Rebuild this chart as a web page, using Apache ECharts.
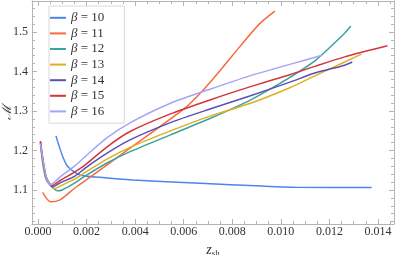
<!DOCTYPE html>
<html><head><meta charset="utf-8">
<script src="https://cdn.jsdelivr.net/npm/echarts@6/dist/echarts.min.js"></script>
<style>html,body{margin:0;padding:0;background:#fff}#c{width:395px;height:255px}</style>
</head><body><div id="c"></div>
<script>
const betas = [10, 11, 12, 13, 14, 15, 16];
const colors = ['#4A86EC', '#F76B3F', '#3AA3A0', '#E0AE22', '#5A4FB2', '#D2353C', '#A3A5F8'];

const b10 = [[0.00074,1.237],[0.00118,1.163],[0.00173,1.138],[0.00255,1.132],[0.00391,1.125],[0.00667,1.117],[0.00922,1.110],[0.01058,1.107],[0.01374,1.106]];
const b11 = [[0.00019,1.094],[0.00052,1.070],[0.00091,1.075],[0.00152,1.105],[0.00193,1.123],[0.00379,1.206],[0.00598,1.304],[0.00674,1.349],[0.00763,1.412],[0.00831,1.463],[0.00911,1.520],[0.00975,1.553]];
const b12 = [[0.00010,1.220],[0.00033,1.128],[0.00082,1.098],[0.00099,1.100],[0.00152,1.118],[0.00193,1.135],[0.00286,1.169],[0.00379,1.197],[0.00543,1.239],[0.00708,1.281],[0.00872,1.327],[0.00996,1.370],[0.01037,1.385],[0.0114,1.427],[0.01263,1.497],[0.01288,1.515]];
const b13 = [[0.00010,1.220],[0.00033,1.130],[0.00070,1.104],[0.00091,1.110],[0.00152,1.128],[0.00193,1.144],[0.00286,1.179],[0.00379,1.208],[0.00543,1.249],[0.00708,1.287],[0.00872,1.319],[0.01037,1.359],[0.0114,1.389],[0.01263,1.424],[0.01332,1.444]];
const b14 = [[0.00010,1.222],[0.00033,1.133],[0.00062,1.108],[0.00091,1.118],[0.00152,1.135],[0.00193,1.155],[0.00286,1.194],[0.00379,1.227],[0.00543,1.270],[0.00708,1.305],[0.00872,1.338],[0.01037,1.373],[0.0114,1.396],[0.01263,1.416],[0.01294,1.424]];
const b15 = [[0.00010,1.224],[0.00033,1.135],[0.00056,1.111],[0.00091,1.124],[0.00152,1.146],[0.00193,1.163],[0.00286,1.210],[0.00379,1.248],[0.00543,1.292],[0.00708,1.328],[0.00872,1.361],[0.01037,1.392],[0.0114,1.413],[0.01263,1.437],[0.01439,1.465]];
const b16 = [[0.00010,1.218],[0.00033,1.135],[0.00052,1.113],[0.00091,1.133],[0.00152,1.161],[0.00193,1.184],[0.00286,1.233],[0.00379,1.270],[0.00543,1.319],[0.00708,1.355],[0.00872,1.389],[0.01037,1.418],[0.0117,1.441]];
const seriesData = [b10, b11, b12, b13, b14, b15, b16];

const xTickLabels = [0, 0.002, 0.004, 0.006, 0.008, 0.010, 0.012, 0.014];
const yTickLabels = [1.1, 1.2, 1.3, 1.4, 1.5];

const XMIN = -0.000247, XMAX = 0.01466, YMIN = 1.0139, YMAX = 1.5785;
const xMinor = [], yMinor = [];
for (let i = 0; i <= 29; i++) xMinor.push(+(i * 0.0005).toFixed(5));
for (let i = 1; i <= 28; i++) yMinor.push(+(1 + i * 0.02).toFixed(3));

const frameColor = '#b4b4b4';
const labelFont = {fontFamily: 'Liberation Serif', fontSize: 12, color: '#333'};

function ax(kind, pos, vals, len, withLabels, withLine, extra) {
  const o = {
    type: 'value', position: pos,
    min: kind === 'x' ? XMIN : YMIN, max: kind === 'x' ? XMAX : YMAX,
    axisLine: {show: withLine, onZero: false, lineStyle: {color: frameColor, width: 1}},
    axisTick: {show: true, inside: true, length: len, customValues: vals, lineStyle: {color: frameColor, width: 1}},
    axisLabel: withLabels ? Object.assign({show: true, customValues: vals}, labelFont,
      kind === 'x' ? {margin: 2, formatter: v => v.toFixed(3)} : {margin: 4, formatter: v => v.toFixed(1)})
      : {show: false},
    splitLine: {show: false}
  };
  return Object.assign(o, extra || {});
}

const chart = echarts.init(document.getElementById('c'), null, {renderer: 'canvas'});
chart.setOption({
  animation: false,
  backgroundColor: '#fff',
  grid: {left: 32, right: 1, top: 1, bottom: 31, containLabel: false, outerBoundsMode: 'none'},
  xAxis: [
    ax('x', 'bottom', xTickLabels, 5, true, true, {
      name: '{z|z}{s|sh}', nameLocation: 'middle', nameGap: 16,
      nameTextStyle: {rich: {
        z: {fontFamily: 'Liberation Serif', fontStyle: 'italic', fontSize: 14, color: '#333'},
        s: {fontFamily: 'Liberation Serif', fontSize: 9, color: '#333', padding: [8, 0, 0, 0]}
      }}
    }),
    ax('x', 'bottom', xMinor, 3, false, false),
    ax('x', 'top', xTickLabels, 5, false, true),
    ax('x', 'top', xMinor, 3, false, false)
  ],
  yAxis: [
    ax('y', 'left', yTickLabels, 5, true, true, {
      name: 'ℳ', nameLocation: 'middle', nameGap: 18, nameRotate: 90, nameMoveOverlap: false,
      nameTextStyle: {fontFamily: 'DejaVu Serif', fontStyle: 'italic', fontSize: 13, color: '#333'}
    }),
    ax('y', 'left', yMinor, 3, false, false),
    ax('y', 'right', yTickLabels, 5, false, true),
    ax('y', 'right', yMinor, 3, false, false)
  ],
  legend: {
    orient: 'vertical', left: 49, top: 6,
    padding: [4, 20, 4, 1],
    borderColor: '#d8d8d8', borderWidth: 1, backgroundColor: '#fff',
    icon: 'rect',
    itemWidth: 16, itemHeight: 2, itemGap: 0,
    formatter: name => '{i|β} ' + name.slice(2),
    textStyle: {fontFamily: 'Liberation Serif', fontSize: 13, color: '#333', lineHeight: 15.6,
      rich: {i: {fontFamily: 'Liberation Serif', fontStyle: 'italic', fontSize: 13, color: '#333', lineHeight: 15.6}}}
  },
  series: betas.map((b, i) => ({
    name: 'β = ' + b,
    type: 'line',
    xAxisIndex: 0, yAxisIndex: 0,
    data: seriesData[i],
    symbol: 'none',
    smooth: 0.25,
    color: colors[i],
    lineStyle: {width: 1.5, color: colors[i]}
  }))
});
</script></body></html>
